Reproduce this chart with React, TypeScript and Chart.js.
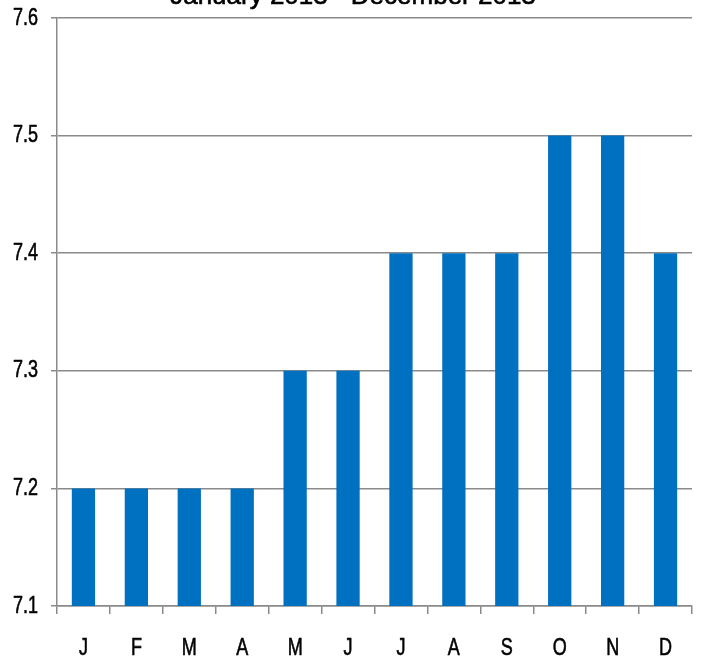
import React, { useEffect, useRef } from "react";
import { Chart, registerables } from "chart.js";

Chart.register(...registerables);

const TITLE = "January 2013 - December 2013";
const CATEGORIES = ["J", "F", "M", "A", "M", "J", "J", "A", "S", "O", "N", "D"];
const VALUES = [7.2, 7.2, 7.2, 7.2, 7.3, 7.3, 7.4, 7.4, 7.4, 7.5, 7.5, 7.4];
const Y_MIN = 7.1;
const Y_MAX = 7.6;
const Y_STEP = 0.1;

const LABEL_FONT = "24px 'Liberation Sans', sans-serif";
const SQUEEZE = 0.75;
const CANVAS_H = 680;

function drawText(ctx: any, txt: string, x: number, y: number, sx: number) {
  ctx.save();
  ctx.translate(x, y);
  ctx.scale(sx, 1);
  ctx.fillText(txt, 0, 0);
  ctx.strokeText(txt, 0, 0);
  ctx.restore();
}

// Draws the title (cut off by the top edge) and narrow tick labels
// positioned from the chart's own scales.
const labelPlugin = {
  id: "narrowLabels",
  afterDraw(chart: any) {
    const ctx = chart.ctx;
    ctx.save();
    ctx.lineWidth = 0.6;
    ctx.strokeStyle = "#000";
    ctx.font = "26px 'Liberation Sans', sans-serif";
    ctx.fillStyle = "#000";
    ctx.textAlign = "center";
    ctx.textBaseline = "alphabetic";
    drawText(ctx, TITLE, 353, 4, 1);

    ctx.font = LABEL_FONT;
    const ys = chart.scales.y;
    ctx.textAlign = "right";
    ctx.textBaseline = "middle";
    ys.ticks.forEach((t: any) => {
      const py = ys.getPixelForValue(t.value);
      drawText(ctx, Number(t.value).toFixed(1), 38, py, SQUEEZE);
    });

    const xs = chart.scales.x;
    ctx.textAlign = "center";
    ctx.textBaseline = "top";
    CATEGORIES.forEach((c, i) => {
      drawText(ctx, c, xs.getPixelForValue(i), chart.chartArea.bottom + 30, SQUEEZE);
    });
    ctx.restore();
  },
};

export default function App() {
  const ref = useRef<HTMLCanvasElement | null>(null);
  useEffect(() => {
    document.body.style.margin = "0";
    const chart = new Chart(ref.current as HTMLCanvasElement, {
      type: "bar",
      data: {
        labels: CATEGORIES,
        datasets: [
          {
            data: VALUES,
            backgroundColor: "#0070C0",
            borderWidth: 0,
            categoryPercentage: 1,
            barPercentage: 0.44,
          },
        ],
      },
      plugins: [labelPlugin],
      options: {
        responsive: false,
        animation: false,
        devicePixelRatio: 1,
        layout: { padding: { top: 18, right: 9, left: 0, bottom: 0 } },
        plugins: { legend: { display: false }, tooltip: { enabled: false }, title: { display: false } },
        scales: {
          x: {
            offset: true,
            grid: {
              offset: true,
              drawOnChartArea: false,
              drawTicks: true,
              tickLength: 8,
              color: "#8a8a8a",
              lineWidth: 1.5,
            },
            border: { color: "#8a8a8a", width: 1.5 },
            ticks: {
              color: "rgba(0,0,0,0)",
              padding: 20,
              font: { size: 24 },
              maxRotation: 0,
              autoSkip: false,
            },
            afterFit(scale: any) {
              scale.height = CANVAS_H - 606;
              scale.paddingLeft = 0;
              scale.paddingRight = 0;
            },
          },
          y: {
            min: Y_MIN,
            max: Y_MAX,
            ticks: {
              stepSize: Y_STEP,
              color: "rgba(0,0,0,0)",
              padding: 14,
              font: { size: 24 },
            },
            grid: { color: "#8a8a8a", lineWidth: 1.5, tickLength: 6 },
            border: { color: "#8a8a8a", width: 1.5 },
            afterFit(scale: any) {
              scale.width = 57;
              scale.paddingTop = 0;
              scale.paddingBottom = 0;
            },
          },
        },
      },
    });
    return () => chart.destroy();
  }, []);
  return (
    <div style={{ width: 701, height: 656, overflow: "hidden", position: "relative", background: "#fff" }}>
      <canvas ref={ref} width={701} height={CANVAS_H} style={{ display: "block" }} />
    </div>
  );
}
